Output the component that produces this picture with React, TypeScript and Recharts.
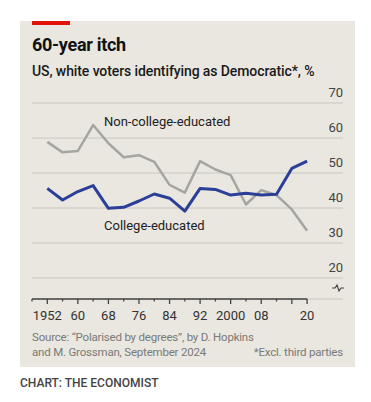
import { CartesianGrid, Line, LineChart, ReferenceLine, XAxis, YAxis } from "recharts";

const years = [1952, 1956, 1960, 1964, 1968, 1972, 1976, 1980, 1984, 1988, 1992, 1996, 2000, 2004, 2008, 2012, 2016, 2020];
const nonCollege = [58.9, 55.9, 56.3, 63.7, 58.5, 54.5, 55.1, 53.2, 46.6, 44.4, 53.4, 51.0, 49.4, 41.0, 45.1, 43.7, 39.6, 33.5];
const college = [45.6, 42.3, 44.7, 46.4, 39.9, 40.2, 42.0, 44.0, 42.8, 39.1, 45.6, 45.3, 43.7, 44.2, 43.7, 43.9, 51.3, 53.4];
const xTicks = [1948, 1952, 1956, 1960, 1964, 1968, 1972, 1976, 1980, 1984, 1988, 1992, 1996, 2000, 2004, 2008, 2012, 2016, 2020];
const xLabels: Record<number, string> = { 1952: "1952", 1960: "60", 1968: "68", 1976: "76", 1984: "84", 1992: "92", 2000: "2000", 2008: "08", 2020: "20" };
const yTicks = [20, 30, 40, 50, 60, 70];

const BLUE = "#2b3f98";
const GREY = "#a6a6a0";
const FONT = "Roboto, 'Noto Sans', sans-serif";

const data = years.map((y, i) => ({ year: y, nonCollege: nonCollege[i], college: college[i] }));

function XTick(props: any) {
  const { x, payload } = props;
  const y = 299;
  const v = payload.value as number;
  const major = (v - 1952) % 8 === 0 || v === 2020;
  return (
    <g>
      <line x1={x} x2={x} y1={y} y2={y + (major ? 5 : 2.5)} stroke="#444" strokeWidth={1.3} />
      {xLabels[v] && (
        <text x={x} y={y + 21} textAnchor="middle" fontSize={13} fill="#333" fontFamily={FONT}>
          {xLabels[v]}
        </text>
      )}
    </g>
  );
}

function YTick(props: any) {
  const { y, payload } = props;
  return (
    <text x={343} y={y - 6} textAnchor="end" fontSize={13} fill="#444" fontFamily={FONT}>
      {payload.value}
    </text>
  );
}

export default function App() {
  return (
    <div style={{ position: "absolute", left: 0, top: 0, width: 371, height: 402, background: "#fff", fontFamily: FONT }}>
      <div style={{ position: "absolute", left: 20, top: 21, width: 335, height: 346, background: "#e9e7e0" }} />
      <div style={{ position: "absolute", left: 32, top: 21, width: 38, height: 4, background: "#e3120b" }} />
      <div style={{ position: "absolute", left: 32, top: 34, fontSize: 18, fontWeight: 700, color: "#121212", letterSpacing: -0.3 }}>
        60-year itch
      </div>
      <div style={{ position: "absolute", left: 32, top: 63, fontSize: 14, fontWeight: 500, color: "#1a1a1a", letterSpacing: -0.1, whiteSpace: "nowrap" }}>
        US, white voters identifying as Democratic*, %
      </div>
      <div style={{ position: "absolute", left: 0, top: 0 }}>
        <LineChart width={371} height={402} data={data} margin={{ top: 103, right: 27, bottom: 73, left: 32 }}>
          <CartesianGrid vertical={false} stroke="#c9c7bf" strokeWidth={1} />
          <XAxis
            dataKey="year"
            type="number"
            domain={[1948, 2029.4]}
            ticks={xTicks}
            interval={0}
            axisLine={false}
            tickLine={false}
            tickSize={0}
            tickMargin={0}
            height={30}
            tick={<XTick />}
            allowDataOverflow
          />
          <YAxis
            orientation="right"
            domain={[14, 70]}
            ticks={yTicks}
            width={1}
            axisLine={false}
            tickLine={false}
            tickSize={0}
            tickMargin={0}
            interval={0}
            tick={<YTick />}
            allowDataOverflow
          />
          <ReferenceLine
            segment={[{ x: 1948, y: 14 }, { x: 2020, y: 14 }]}
            stroke="#444"
            strokeWidth={1.5}
            ifOverflow="visible"
          />
          <Line dataKey="nonCollege" stroke={GREY} strokeWidth={2.5} dot={false} isAnimationActive={false} strokeLinejoin="round" />
          <Line dataKey="college" stroke={BLUE} strokeWidth={3} dot={false} isAnimationActive={false} strokeLinejoin="round" />
        </LineChart>
      </div>
      <div style={{ position: "absolute", left: 104, top: 114, fontSize: 13, color: "#222", whiteSpace: "nowrap" }}>
        Non-college-educated
      </div>
      <div style={{ position: "absolute", left: 104, top: 218, fontSize: 13, color: "#222", whiteSpace: "nowrap" }}>
        College-educated
      </div>
      <svg style={{ position: "absolute", left: 330, top: 282 }} width={16} height={12}>
        <path d="M2,6 L5,6 L7,3 L9,9 L11,6 L14,6" fill="none" stroke="#444" strokeWidth={1.2} />
      </svg>
      <div style={{ position: "absolute", left: 32, top: 330, fontSize: 11.5, color: "#7a7a78", lineHeight: "15px", whiteSpace: "nowrap", letterSpacing: -0.2 }}>
        Source: “Polarised by degrees”, by D. Hopkins
        <br />
        and M. Grossman, September 2024
      </div>
      <div style={{ position: "absolute", right: 28, top: 345, fontSize: 11.5, color: "#7a7a78", lineHeight: "15px", whiteSpace: "nowrap", letterSpacing: -0.2 }}>
        *Excl. third parties
      </div>
      <div style={{ position: "absolute", left: 20, top: 376, fontSize: 12, fontWeight: 500, color: "#444", whiteSpace: "nowrap" }}>
        CHART: THE ECONOMIST
      </div>
    </div>
  );
}
